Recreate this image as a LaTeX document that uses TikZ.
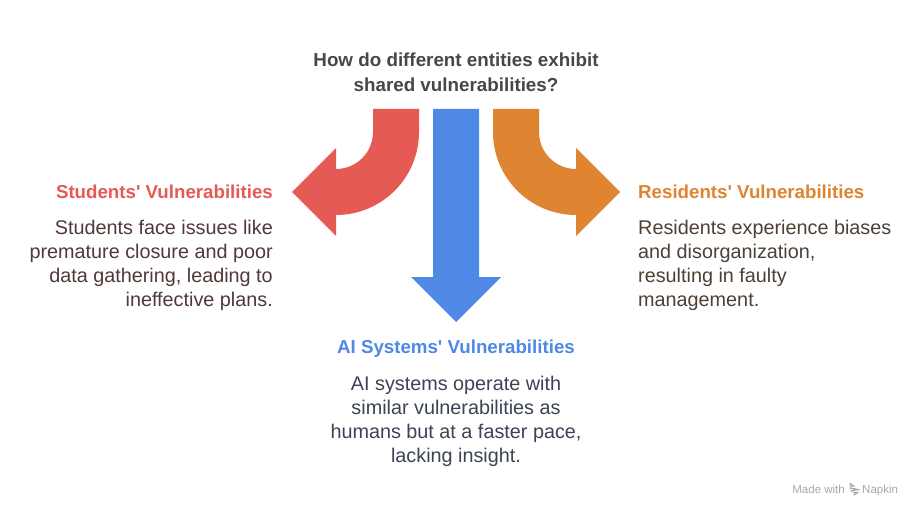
\documentclass[tikz,border=0pt]{standalone}
\usepackage{fontspec}
\setmainfont{Liberation Sans}
\newfontfamily\plainsans{Liberation Sans}
\definecolor{redc}{HTML}{E55A55}
\definecolor{bluec}{HTML}{4D89E5}
\definecolor{orangec}{HTML}{DF8431}
\definecolor{titlec}{HTML}{474747}
\definecolor{redtxt}{HTML}{523838}
\definecolor{bluetxt}{HTML}{3B4355}
\definecolor{orangetxt}{HTML}{4C4037}
\definecolor{markc}{HTML}{A8A8A8}
\tikzset{
  titletext/.style={inner sep=0pt, font=\plainsans\fontsize{18.8}{24}\selectfont\bfseries, text=titlec},
  headtext/.style={inner sep=0pt, font=\plainsans\fontsize{18.7}{24}\selectfont\bfseries},
  bodytext/.style={inner sep=0pt, font=\plainsans\fontsize{19.8}{24}\selectfont},
  marktext/.style={inner sep=0pt, font=\plainsans\fontsize{11.5}{12}\selectfont, text=markc}
}
\begin{document}
\begin{tikzpicture}[x=1pt,y=-1pt]
\fill[white] (0,0) rectangle (924,516);
\useasboundingbox (0,0) rectangle (924,516);
% arrows
\fill[redc] (419,109) -- (419,132) arc[start angle=0,end angle=90,radius=83]
  -- (336,236) -- (292,192) -- (336,148) -- (336,169)
  arc[start angle=90,end angle=0,radius=37] -- (373,109) -- cycle;
\fill[orangec] (493,109) -- (493,132) arc[start angle=180,end angle=90,radius=83]
  -- (576,236) -- (620,192) -- (576,148) -- (576,169)
  arc[start angle=90,end angle=180,radius=37] -- (539,109) -- cycle;
\fill[bluec] (433,109) -- (433,277) -- (411,277) -- (456,322) -- (501,277)
  -- (479,277) -- (479,109) -- cycle;
% title
\node[titletext, anchor=base] (t1) at (456,66.5) {How do different entities exhibit};
\node[titletext, anchor=base] (t2) at (456,91.5) {shared vulnerabilities?};
% students
\node[headtext, text=redc, anchor=base east] (sh) at (273,198) {Students' Vulnerabilities};
\node[bodytext, text=redtxt, anchor=base east] (s1) at (273,234) {Students face issues like};
\node[bodytext, text=redtxt, anchor=base east] (s2) at (273,258) {premature closure and poor};
\node[bodytext, text=redtxt, anchor=base east] (s3) at (273,282) {data gathering, leading to};
\node[bodytext, text=redtxt, anchor=base east] (s4) at (273,306) {ineffective plans.};
% residents
\node[headtext, text=orangec, anchor=base west] (rh) at (638,198) {Residents' Vulnerabilities};
\node[bodytext, text=orangetxt, anchor=base west] (r1) at (638,234) {Residents experience biases};
\node[bodytext, text=orangetxt, anchor=base west] (r2) at (638,258) {and disorganization,};
\node[bodytext, text=orangetxt, anchor=base west] (r3) at (638,282) {resulting in faulty};
\node[bodytext, text=orangetxt, anchor=base west] (r4) at (638,306) {management.};
% AI
\node[headtext, text=bluec, anchor=base] (ah) at (456,353) {AI Systems' Vulnerabilities};
\node[bodytext, text=bluetxt, anchor=base] (a1) at (456,390) {AI systems operate with};
\node[bodytext, text=bluetxt, anchor=base] (a2) at (456,414) {similar vulnerabilities as};
\node[bodytext, text=bluetxt, anchor=base] (a3) at (456,438) {humans but at a faster pace,};
\node[bodytext, text=bluetxt, anchor=base] (a4) at (456,462) {lacking insight.};
% watermark
\node[marktext, anchor=base east] (m1) at (845,493) {Made with};
\node[marktext, anchor=base west] (m2) at (862,493) {Napkin};
\begin{scope}[markc, line width=1.3pt, line cap=round]
  \draw (850,483.5) -- (853.5,486) -- (850,486);
  \draw (850,488) -- (857.5,489.5) -- (851,491);
  \draw (853,492.5) -- (857.5,492.5) -- (854,495);
\end{scope}
\end{tikzpicture}
\end{document}
